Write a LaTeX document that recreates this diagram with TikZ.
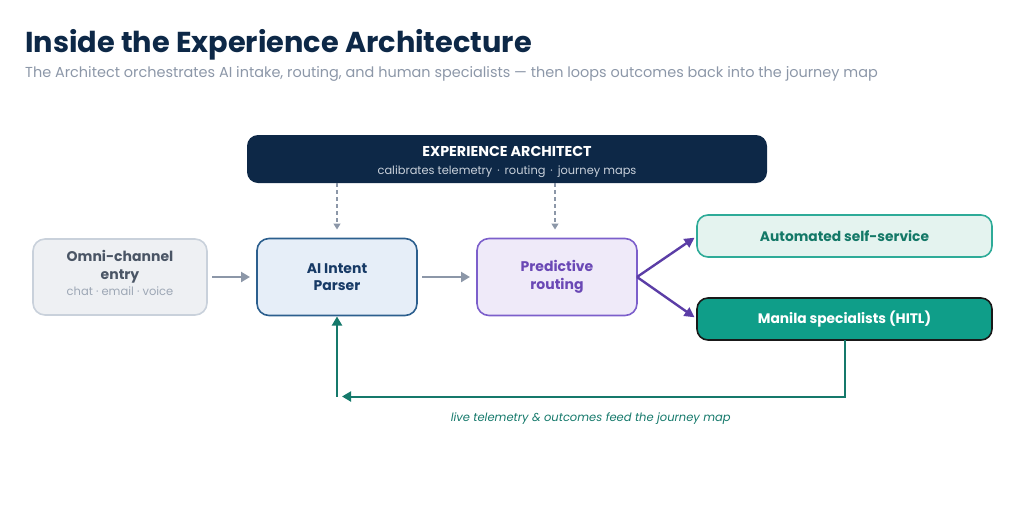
\documentclass[tikz,border=0pt]{standalone}
\usepackage{fontspec}
\setmainfont{Poppins}
\usepackage{tikz}
\usetikzlibrary{arrows.meta,positioning}
\definecolor{navy}{HTML}{0D2847}
\definecolor{slate}{HTML}{8C97A8}
\definecolor{omni_fill}{HTML}{EEF0F3}
\definecolor{omni_edge}{HTML}{C9D1DB}
\definecolor{omni_text}{HTML}{4A5565}
\definecolor{parser_fill}{HTML}{E6EEF8}
\definecolor{parser_edge}{HTML}{2C5F8E}
\definecolor{parser_text}{HTML}{173A66}
\definecolor{route_fill}{HTML}{EFEAF9}
\definecolor{route_edge}{HTML}{7C5FCB}
\definecolor{route_text}{HTML}{6A48B5}
\definecolor{route_arrow}{HTML}{5B3DA6}
\definecolor{auto_fill}{HTML}{E4F3EF}
\definecolor{auto_edge}{HTML}{2EAB98}
\definecolor{auto_text}{HTML}{137867}
\definecolor{hitl_fill}{HTML}{0F9E89}
\definecolor{loop_teal}{HTML}{15796B}
\tikzset{
stage_box/.style={rectangle, rounded corners=12pt, draw, line width=1.6pt, outer sep=0pt, align=center, minimum width=160pt, minimum height=77pt, inner sep=0pt, font=\fontsize{14}{17.5}\selectfont\bfseries},
outcome_box/.style={rectangle, rounded corners=11pt, draw, line width=1.6pt, outer sep=0pt, align=center, minimum width=295pt, minimum height=42pt, inner sep=0pt, font=\fontsize{13.8}{16}\selectfont\bfseries},
flow_arrow/.style={-{Triangle[length=9pt,width=10pt]}, line width=2.4pt, color=slate, shorten <=5pt, shorten >=7pt},
route_line/.style={-{Triangle[length=10pt,width=10pt]}, line width=2.4pt, color=route_arrow, shorten >=3pt},
calib_arrow/.style={-{Triangle[length=6pt,width=7pt]}, dashed, dash pattern=on 4pt off 3pt, line width=1.3pt, color=slate, shorten >=9pt},
loop_line/.style={line width=2pt, color=loop_teal}
}

\begin{document}
\begin{tikzpicture}[x=1pt, y=1pt]
    \useasboundingbox (0,0) rectangle (1024,-515);
    \node[anchor=base west, inner sep=0pt, text=navy, font=\fontsize{28.8}{32}\selectfont\bfseries] (title) at (25,-52) {Inside the Experience Architecture};
    \node[anchor=base west, inner sep=0pt, text=slate, font=\fontsize{14.45}{17}\selectfont] (subtitle) at (25,-77) {The Architect orchestrates AI intake, routing, and human specialists — then loops outcomes back into the journey map};
    % top layer
    \node[rectangle, rounded corners=11pt, fill=navy, minimum width=520pt, minimum height=48pt, align=center, inner sep=0pt] (architect) at (507,-159)
        {\rule{0pt}{17pt}\textcolor{white}{\fontsize{14.3}{15}\selectfont\bfseries EXPERIENCE ARCHITECT}\\[6pt]
         \textcolor{omni_edge}{\fontsize{11.4}{13}\selectfont calibrates telemetry \,·\, routing \,·\, journey maps}};
    % main flow
    \node[stage_box, fill=omni_fill, draw=omni_edge, minimum width=174pt, minimum height=76pt] (omni_entry) at (120,-277)
        {\textcolor{omni_text}{Omni-channel}\\\textcolor{omni_text}{entry}\\[-1pt]\textcolor{slate!85}{\fontsize{11.5}{13}\selectfont\mdseries chat · email · voice}\\[-10pt]};
    \node[stage_box, fill=parser_fill, draw=parser_edge, text=parser_text] (intent_parser) [right=50pt of omni_entry] {AI Intent\\Parser};
    \node[stage_box, fill=route_fill, draw=route_edge, text=route_text] (pred_routing) [right=60pt of intent_parser] {Predictive\\routing};
    \node[outcome_box, fill=auto_fill, draw=auto_edge, text=auto_text] (self_service) [right=60pt of pred_routing, yshift=41pt] {Automated self-service};
    \node[outcome_box, fill=hitl_fill, draw=black!90, text=white] (specialists) [right=60pt of pred_routing, yshift=-42pt] {Manila specialists (HITL)};
    \draw[flow_arrow] (omni_entry) -- (intent_parser);
    \draw[flow_arrow] (intent_parser) -- (pred_routing);
    \draw[calib_arrow] (architect.south -| intent_parser) -- (intent_parser.north);
    \draw[calib_arrow] (architect.south -| 555,0) -- (pred_routing.north -| 555,0);
    \draw[route_line] (pred_routing.east) -- (self_service.west);
    \draw[route_line] (pred_routing.east) -- (specialists.west);
    % feedback loop
    \coordinate[below=81pt of intent_parser] (loop_turn);
    \draw[loop_line, -{Triangle[length=9pt,width=10pt]}, shorten >=5pt] (specialists.south) |- (loop_turn)
        node[pos=0.75, below=12pt, text=loop_teal, font=\fontsize{11.5}{14}\selectfont\itshape] (loop_label) {live telemetry \& outcomes feed the journey map};
    \draw[loop_line, -{Triangle[length=9pt,width=10pt]}, shorten >=1pt] (loop_turn) -- (intent_parser.south);
\end{tikzpicture}
\end{document}
